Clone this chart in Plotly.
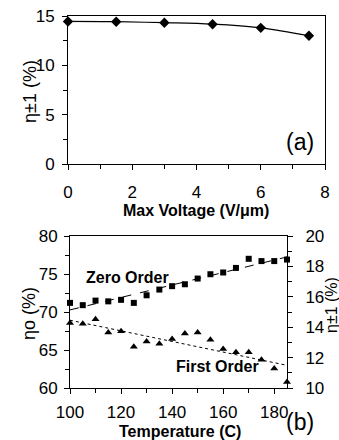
import numpy as np
import plotly.graph_objects as go

# Panel (a)
voltage = [0, 1.5, 3, 4.5, 6, 7.5]
eta_pm1_a = [14.45, 14.42, 14.32, 14.17, 13.8, 13.0]

# Panel (b)
temperature = [100, 105, 110, 115, 120, 125, 130, 135, 140, 145, 150, 155, 160, 165, 170, 175, 180, 185]
zero_order = [71.2, 70.9, 71.5, 71.4, 71.6, 71.2, 72.2, 72.95, 73.4, 73.65, 74.4, 74.97, 75.2, 75.8, 77.0, 76.7, 76.7, 76.9]
first_order = [14.27, 14.22, 14.53, 13.65, 13.74, 12.71, 13.06, 12.91, 13.22, 13.59, 13.65, 13.17, 12.56, 12.36, 12.36, 11.86, 11.29, 10.39]

W, H = 339, 440
FONT = "Liberation Sans, Arial, sans-serif"

def px(x):
    return x / W

def py(y):
    return 1 - y / H

# linear trend lines (Excel-style) computed from the data
t = np.array(temperature, dtype=float)
zc = np.polyfit(t, np.array(zero_order), 1)
fc = np.polyfit(t, np.array(first_order), 1)
t_line = [100, 185]
z_line = list(np.polyval(zc, t_line))
f_line = list(np.polyval(fc, t_line))

fig = go.Figure()

fig.add_trace(go.Scatter(
    x=voltage, y=eta_pm1_a, mode="lines+markers",
    line=dict(color="black", width=1.2, shape="spline"),
    marker=dict(symbol="diamond", size=8, color="black"),
    xaxis="x", yaxis="y", showlegend=False, cliponaxis=False))

fig.add_trace(go.Scatter(
    x=t_line, y=z_line, mode="lines",
    line=dict(color="black", width=1, dash="dash"),
    xaxis="x2", yaxis="y2", showlegend=False))
fig.add_trace(go.Scatter(
    x=temperature, y=zero_order, mode="markers",
    marker=dict(symbol="square", size=6, color="black"),
    xaxis="x2", yaxis="y2", showlegend=False, cliponaxis=False))

fig.add_trace(go.Scatter(
    x=t_line, y=f_line, mode="lines",
    line=dict(color="black", width=1, dash="dot"),
    xaxis="x2", yaxis="y3", showlegend=False))
fig.add_trace(go.Scatter(
    x=temperature, y=first_order, mode="markers",
    marker=dict(symbol="triangle-up", size=7, color="black"),
    xaxis="x2", yaxis="y3", showlegend=False, cliponaxis=False))

tickfont = dict(family=FONT, size=17, color="black")
common = dict(showgrid=False, zeroline=False, showline=True, linecolor="black",
              linewidth=1, ticks="outside", ticklen=5, tickcolor="black",
              tickfont=tickfont, automargin=False)

fig.update_layout(
    width=W, height=H,
    margin=dict(l=0, r=0, t=0, b=0),
    paper_bgcolor="white", plot_bgcolor="white",
    font=dict(family=FONT, color="black"),
    xaxis=dict(domain=[px(68), px(325)], anchor="y", range=[0, 8], dtick=2,
               mirror=True, ticklabelstandoff=8,
               minor=dict(dtick=1, ticks="outside", ticklen=4, tickcolor="black"),
               **common),
    yaxis=dict(domain=[py(164), py(16)], anchor="x", range=[0, 15], dtick=5,
               mirror=True, ticklabelstandoff=4,
               minor=dict(dtick=2.5, ticks="outside", ticklen=4, tickcolor="black"),
               **common),
    xaxis2=dict(domain=[px(70), px(287)], anchor="y2", range=[100, 185],
                tick0=100, dtick=20, mirror=True, ticklabelstandoff=4,
                minor=dict(dtick=10, ticks="outside", ticklen=4, tickcolor="black"),
                **common),
    yaxis2=dict(domain=[py(388), py(236)], anchor="x2", range=[60, 80], dtick=5,
                ticklabelstandoff=3,
                minor=dict(dtick=2.5, ticks="outside", ticklen=4, tickcolor="black"),
                **common),
    yaxis3=dict(domain=[py(388), py(236)], anchor="x2", overlaying="y2", side="right",
                range=[10, 20], dtick=2, ticklabelstandoff=9,
                minor=dict(dtick=1, ticks="outside", ticklen=4, tickcolor="black"),
                **common),
)

def ann(text, x, y, size, bold=False, angle=0):
    fig.add_annotation(
        text=f"<b>{text}</b>" if bold else text,
        x=px(x), y=py(y), xref="paper", yref="paper",
        xanchor="center", yanchor="middle", showarrow=False, textangle=angle,
        font=dict(family=FONT, size=size, color="black"))

ann("η±1 (%)", 30, 92, 18, angle=-90)
ann("Max Voltage (V/μm)", 196, 210, 16, bold=True)
ann("(a)", 300, 142, 23)
ann("ηo (%)", 29, 314, 18, angle=-90)
ann("η±1 (%)", 331, 305, 16, angle=-90)
ann("Temperature (C)", 180, 431, 16, bold=True)
ann("(b)", 300, 422, 23)
ann("Zero Order", 127, 277, 16, bold=True)
ann("First Order", 217, 366, 16, bold=True)

fig.write_html(
    "out.html",
    config={"displayModeBar": False},
    post_script="document.body.style.margin='0';document.body.style.padding='0';",
)
